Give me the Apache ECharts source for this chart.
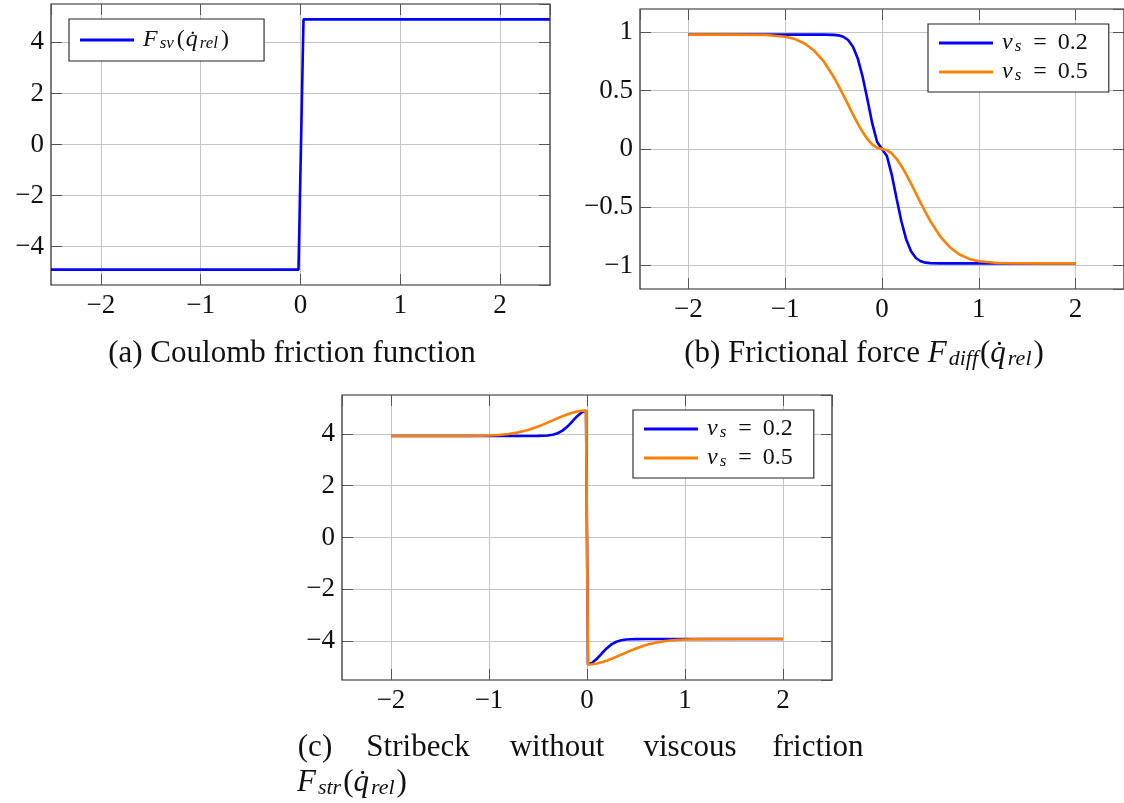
<!DOCTYPE html>
<html>
<head>
<meta charset="utf-8">
<script src="https://cdn.jsdelivr.net/npm/echarts@6/dist/echarts.min.js"></script>
<style>
  html, body { margin: 0; background: #fff; }
  #main { width: 1124px; height: 803px; }
</style>
</head>
<body>
<div id="main"></div>
<script>
// (a) Coulomb friction function
const coulombX = [-2.5, -0.02, 0.03, 2.5];
const coulombY = [-4.9, -4.9, 4.9, 4.9];

// (b) frictional force F_diff
const diffX = [-2, -1.6, -1.2, -1, -0.9, -0.8, -0.7, -0.6, -0.5, -0.45, -0.4, -0.35, -0.3, -0.25, -0.2, -0.15, -0.1, -0.05,
  0, 0.05, 0.1, 0.15, 0.2, 0.25, 0.3, 0.35, 0.4, 0.45, 0.5, 0.6, 0.7, 0.8, 0.9, 1, 1.2, 1.6, 2];
const diffVs02 = [0.98, 0.98, 0.98, 0.98, 0.98, 0.98, 0.98, 0.98, 0.978, 0.974, 0.962, 0.934, 0.877, 0.775, 0.619, 0.422, 0.217, 0.059,
  0, -0.059, -0.217, -0.422, -0.619, -0.775, -0.877, -0.934, -0.962, -0.974, -0.978, -0.98, -0.98, -0.98, -0.98, -0.98, -0.98, -0.98, -0.98];
const diffVs05 = [0.98, 0.98, 0.977, 0.962, 0.942, 0.904, 0.842, 0.748, 0.619, 0.544, 0.463, 0.38, 0.296, 0.217, 0.145, 0.084, 0.038, 0.01,
  0, -0.01, -0.038, -0.084, -0.145, -0.217, -0.296, -0.38, -0.463, -0.544, -0.619, -0.748, -0.842, -0.904, -0.942, -0.962, -0.977, -0.98, -0.98];

// (c) Stribeck without viscous friction
const strX = [-2, -1.6, -1.2, -1, -0.9, -0.8, -0.7, -0.6, -0.5, -0.45, -0.4, -0.35, -0.3, -0.25, -0.2, -0.15, -0.1, -0.05, -0.01,
  0.01, 0.05, 0.1, 0.15, 0.2, 0.25, 0.3, 0.35, 0.4, 0.45, 0.5, 0.6, 0.7, 0.8, 0.9, 1, 1.2, 1.6, 2];
const strVs02 = [3.92, 3.92, 3.92, 3.92, 3.92, 3.92, 3.92, 3.92, 3.922, 3.926, 3.938, 3.966, 4.023, 4.125, 4.281, 4.478, 4.683, 4.841, 4.898,
  -4.898, -4.841, -4.683, -4.478, -4.281, -4.125, -4.023, -3.966, -3.938, -3.926, -3.922, -3.92, -3.92, -3.92, -3.92, -3.92, -3.92, -3.92, -3.92];
const strVs05 = [3.92, 3.92, 3.923, 3.938, 3.958, 3.996, 4.058, 4.152, 4.281, 4.356, 4.437, 4.52, 4.604, 4.683, 4.755, 4.816, 4.862, 4.89, 4.9,
  -4.9, -4.89, -4.862, -4.816, -4.755, -4.683, -4.604, -4.52, -4.437, -4.356, -4.281, -4.152, -4.058, -3.996, -3.958, -3.938, -3.923, -3.92, -3.92];

const FONT = '"Liberation Serif", "Times New Roman", serif';
const BLUE = '#0000ff';
const ORANGE = '#ff8000';

const pairs = (xs, ys) => xs.map((x, i) => [x, ys[i]]);
const minus = v => String(v).replace('-', '\u2212');

// math-ish rich text styles for the legends
const mathRich = (size, subSize) => ({
  it: { fontFamily: FONT, fontStyle: 'italic', fontSize: size, lineHeight: 24, color: '#111' },
  rm: { fontFamily: FONT, fontSize: size, lineHeight: 24, color: '#111', padding: [0, 1, 0, 1] },
  eq: { fontFamily: FONT, fontSize: size, lineHeight: 24, color: '#111', padding: [0, 10, 0, 10] },
  sub: { fontFamily: FONT, fontStyle: 'italic', fontSize: subSize, lineHeight: 14, verticalAlign: 'bottom', color: '#111', padding: [0, 2, 0, 2] },
  gap: { width: 4, lineHeight: 24 }
});

const legendText = {
  Fsv: '{gap|}{it|F}{sub|sv}{rm|(}{it|q\u0307}{sub|rel}{rm|)}',
  vs02b: '{gap|}{it|v}{sub|s}{eq|=}{rm|0.2}',
  vs05b: '{gap|}{it|v}{sub|s}{eq|=}{rm|0.5}',
  vs02c: '{gap|}{it|v}{sub|s}{eq|=}{rm|0.2}',
  vs05c: '{gap|}{it|v}{sub|s}{eq|=}{rm|0.5}'
};

function makeLegend(names, left, top, pad) {
  return {
    orient: 'vertical', left, top, data: names,
    icon: 'rect', itemWidth: 54, itemHeight: 2.8, itemGap: 5,
    padding: pad, borderColor: '#222', borderWidth: 1.1, backgroundColor: '#fff',
    selectedMode: false,
    formatter: n => legendText[n],
    textStyle: { fontFamily: FONT, fontSize: 24, lineHeight: 24, rich: mathRich(24, 17) }
  };
}

const gridLine = { show: true, showMinLine: false, showMaxLine: false, lineStyle: { color: '#c4c4c4', width: 1 } };
const tick = { show: true, inside: true, length: 11, lineStyle: { color: '#555', width: 1 } };
const noLine = { show: false, onZero: false };
const intLabel = v => Math.abs(v - Math.round(v)) < 1e-9 ? minus(v) : '';

function xAxes(grid, min, max) {
  return [
    { type: 'value', gridIndex: grid, min, max, splitNumber: 5, axisLine: noLine, axisTick: tick, splitLine: gridLine,
      axisLabel: { showMinLabel: false, showMaxLabel: false, margin: 7, fontFamily: FONT, fontSize: 27, color: '#111', formatter: intLabel } },
    { type: 'value', gridIndex: grid, min, max, splitNumber: 5, position: 'top', axisLine: noLine, axisTick: tick,
      splitLine: { show: false }, axisLabel: { show: false } }
  ];
}
function yAxes(grid, min, max, fmt) {
  return [
    { type: 'value', gridIndex: grid, min, max, splitNumber: 5, axisLine: noLine, axisTick: tick, splitLine: gridLine,
      axisLabel: { showMinLabel: false, showMaxLabel: false, margin: 7, fontFamily: FONT, fontSize: 27, color: '#111', formatter: fmt } },
    { type: 'value', gridIndex: grid, min, max, splitNumber: 5, position: 'right', axisLine: noLine, axisTick: tick,
      splitLine: { show: false }, axisLabel: { show: false } }
  ];
}

function line(name, data, color, xi, yi) {
  return { name, type: 'line', data, xAxisIndex: xi, yAxisIndex: yi, symbol: 'none', showSymbol: false,
    lineStyle: { color, width: 2.6 }, itemStyle: { color }, animation: false, z: 3 };
}

const boxGrid = { show: true, borderColor: '#222', borderWidth: 1.2, backgroundColor: 'transparent' };
const capRich = {
  it: { fontFamily: FONT, fontStyle: 'italic', fontSize: 31, lineHeight: 32, fill: '#111' },
  rm: { fontFamily: FONT, fontSize: 31, lineHeight: 32, fill: '#111' },
  sub: { fontFamily: FONT, fontStyle: 'italic', fontSize: 22, lineHeight: 18, verticalAlign: 'bottom', fill: '#111', padding: [0, 2, 0, 2] }
};
const capText = (text, x, y, align) => ({
  type: 'text', x, y,
  style: { text, rich: capRich, font: '31px ' + FONT, fill: '#111', align: align || 'center', verticalAlign: 'middle' }
});

const chart = echarts.init(document.getElementById('main'), null, { renderer: 'canvas' });
chart.setOption({
  animation: false,
  grid: [
    Object.assign({ left: 51, top: 4, width: 499, height: 281 }, boxGrid),
    Object.assign({ left: 640, top: 9, width: 488, height: 280 }, boxGrid),
    Object.assign({ left: 342, top: 395, width: 490, height: 285 }, boxGrid)
  ],
  xAxis: [...xAxes(0, -2.5, 2.5), ...xAxes(1, -2.5, 2.5), ...xAxes(2, -2.5, 2.5)],
  yAxis: [...yAxes(0, -5.5, 5.5, intLabel), ...yAxes(1, -1.2, 1.2, v => minus(v)), ...yAxes(2, -5.5, 5.5, intLabel)],
  legend: [
    makeLegend(['Fsv'], 69, 19, [9, 34, 9, 11]),
    makeLegend(['vs02b', 'vs05b'], 928, 24, [7, 20, 8, 11]),
    makeLegend(['vs02c', 'vs05c'], 633, 410, [7, 20, 8, 11])
  ],
  series: [
    line('Fsv', pairs(coulombX, coulombY), BLUE, 0, 0),
    line('vs02b', pairs(diffX, diffVs02), BLUE, 2, 2),
    line('vs05b', pairs(diffX, diffVs05), ORANGE, 2, 2),
    line('vs02c', pairs(strX, strVs02), BLUE, 4, 4),
    line('vs05c', pairs(strX, strVs05), ORANGE, 4, 4)
  ],
  graphic: [
    capText('{rm|(a) Coulomb friction function}', 292, 354),
    capText('{rm|(b) Frictional force }{it|F}{sub|diff}{rm|(}{it|q\u0307}{sub|rel}{rm|)}', 864, 354),
    capText('{rm|(c)}', 315, 748),
    capText('{rm|Stribeck}', 418, 748),
    capText('{rm|without}', 557, 748),
    capText('{rm|viscous}', 690, 748),
    capText('{rm|friction}', 818, 748),
    capText('{it|F}{sub|str}{rm|(}{it|q\u0307}{sub|rel}{rm|)}', 297, 783, 'left')
  ]
});
</script>
</body>
</html>
